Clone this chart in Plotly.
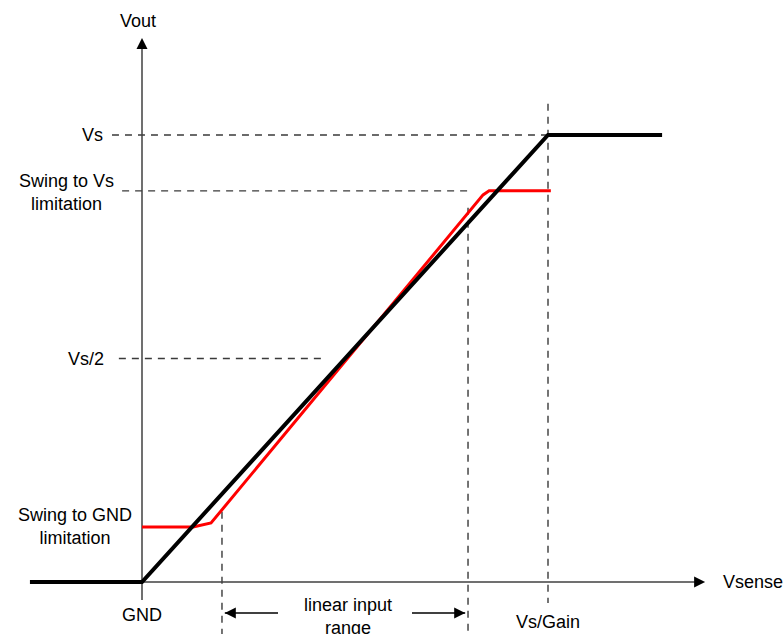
import plotly.graph_objects as go

# ---- data (normalised units: x -> GND=0, Vs/Gain=1 ; y -> GND=0, Vs=1) ----
ideal_x = [-0.276, 0.0, 1.0, 1.281]
ideal_y = [0.0, 0.0, 1.0, 1.0]

real_x = [0.0, 0.126, 0.170, 0.840, 0.855, 1.007]
real_y = [0.123, 0.123, 0.132, 0.866, 0.875, 0.875]

vs_level = 1.0
swing_vs_level = 0.875
half_level = 0.5
swing_gnd_level = 0.123
lin_lo = 0.197
lin_hi = 0.803
vs_gain = 1.0

# reference (dashed) guide lines
h_guides = [  # (x_start, x_end, level)
    (-0.074, vs_gain, vs_level),
    (-0.049, lin_hi, swing_vs_level),
    (-0.057, 0.443, half_level),
]
v_guides = [  # (x, y_top, y_bottom)
    (lin_lo, 0.157, -0.13),
    (lin_hi, 0.837, -0.13),
    (vs_gain, 1.07, -0.047),
]

x_axis_end = 1.387
y_axis_end = 1.217
axis_below = -0.04
range_arrow_y = -0.0694
range_arrow_gap = (0.335, 0.665)

# ---- figure ----
fig = go.Figure()
dash_col = "#3a3a3a"
axis_col = "#404040"

for x0, x1, lv in h_guides:
    fig.add_trace(go.Scatter(x=[x0, x1], y=[lv, lv], mode="lines",
                             line=dict(color=dash_col, width=1.4, dash="7px,6px")))
for xv, yt, yb in v_guides:
    fig.add_trace(go.Scatter(x=[xv, xv], y=[yt, yb], mode="lines",
                             line=dict(color=dash_col, width=1.4, dash="7px,6px")))

# axes
fig.add_trace(go.Scatter(x=[0, x_axis_end - 0.02], y=[0, 0], mode="lines",
                         line=dict(color=axis_col, width=1.5)))
fig.add_trace(go.Scatter(x=[0, 0], y=[axis_below, y_axis_end - 0.02], mode="lines",
                         line=dict(color=axis_col, width=1.5)))
fig.add_trace(go.Scatter(x=[x_axis_end], y=[0], mode="markers",
                         marker=dict(symbol="arrow-right", size=11, color="black")))
fig.add_trace(go.Scatter(x=[0], y=[y_axis_end], mode="markers",
                         marker=dict(symbol="arrow-up", size=11, color="black")))

# linear input range arrows
fig.add_trace(go.Scatter(x=[lin_lo + 0.007, range_arrow_gap[0]], y=[range_arrow_y] * 2,
                         mode="lines", line=dict(color="black", width=1.5)))
fig.add_trace(go.Scatter(x=[range_arrow_gap[1], lin_hi - 0.007], y=[range_arrow_y] * 2,
                         mode="lines", line=dict(color="black", width=1.5)))
fig.add_trace(go.Scatter(x=[lin_lo + 0.007], y=[range_arrow_y], mode="markers",
                         marker=dict(symbol="arrow-left", size=11, color="black")))
fig.add_trace(go.Scatter(x=[lin_hi - 0.007], y=[range_arrow_y], mode="markers",
                         marker=dict(symbol="arrow-right", size=11, color="black")))

# curves
fig.add_trace(go.Scatter(x=real_x, y=real_y, mode="lines",
                         line=dict(color="#ff0000", width=3)))
fig.add_trace(go.Scatter(x=ideal_x, y=ideal_y, mode="lines",
                         line=dict(color="black", width=4)))

font = dict(family="Liberation Sans, Arial, sans-serif", size=18, color="black")
ann = [
    dict(x=0, y=y_axis_end, text="Vout", xanchor="center", yanchor="middle",
         xshift=-4, yshift=17),
    dict(x=h_guides[0][0], y=vs_level, text="Vs", xanchor="right", yanchor="middle",
         xshift=-7),
    dict(x=h_guides[1][0], y=swing_vs_level, text="Swing to Vs<br>limitation",
         xanchor="right", yanchor="middle", xshift=-6, yshift=-2),
    dict(x=h_guides[2][0], y=half_level, text="Vs/2", xanchor="right", yanchor="middle",
         xshift=-13),
    dict(x=0, y=swing_gnd_level, text="Swing to GND<br>limitation",
         xanchor="right", yanchor="middle", xshift=-8, yshift=1),
    dict(x=0, y=0, text="GND", xanchor="center", yanchor="middle", yshift=-33),
    dict(x=vs_gain, y=0, text="Vs/Gain", xanchor="center", yanchor="middle", yshift=-40),
    dict(x=x_axis_end, y=0, text="Vsense", xanchor="left", yanchor="middle", xshift=16),
    dict(x=(lin_lo + lin_hi) / 2, y=range_arrow_y, text="linear input<br>range",
         xanchor="center", yanchor="middle", xshift=3, yshift=-3),
]
for a in ann:
    a.update(xref="x", yref="y", showarrow=False, font=font, align="center")
fig.update_layout(annotations=ann)

fig.update_layout(
    width=783, height=634, margin=dict(l=0, r=0, t=0, b=0),
    showlegend=False, plot_bgcolor="white", paper_bgcolor="white",
    xaxis=dict(range=[-142 / 406, 641 / 406], visible=False, fixedrange=True),
    yaxis=dict(range=[-52 / 447, 582 / 447], visible=False, fixedrange=True),
)
fig.write_html(
    "out.html",
    config={"displayModeBar": False},
    post_script="document.body.style.margin='0';document.body.style.overflow='hidden';",
)
